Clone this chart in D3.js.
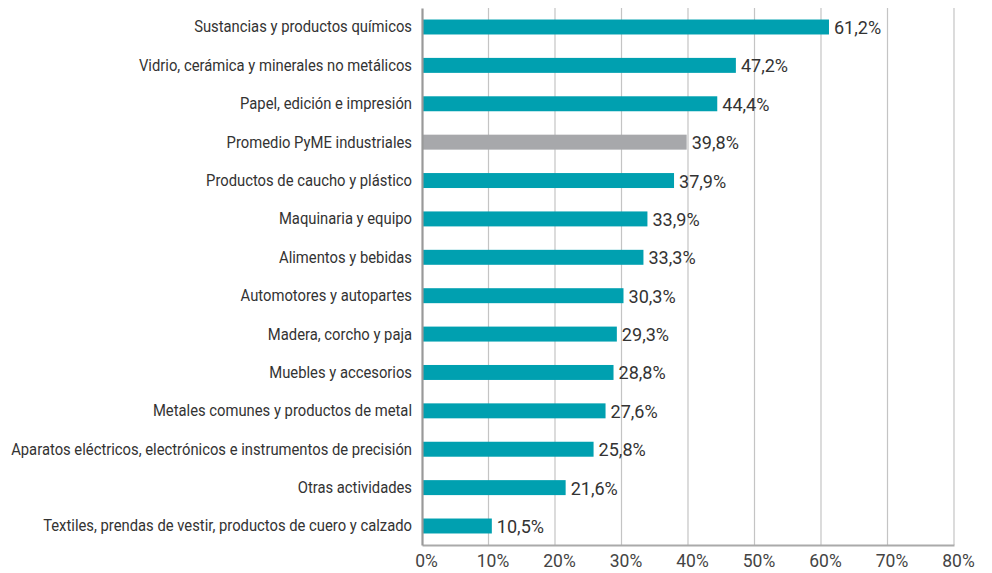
<!DOCTYPE html>
<html>
<head>
<meta charset="utf-8">
<script src="https://cdn.jsdelivr.net/npm/d3@7"></script>
<style>
  html, body { margin: 0; padding: 0; background: #fff; }
  svg text { font-family: "Roboto", "Liberation Sans", sans-serif; }
</style>
</head>
<body>
<svg id="chart" width="992" height="573"></svg>
<script>
const categories = [
  "Sustancias y productos químicos",
  "Vidrio, cerámica y minerales no metálicos",
  "Papel, edición e impresión",
  "Promedio PyME industriales",
  "Productos de caucho y plástico",
  "Maquinaria y equipo",
  "Alimentos y bebidas",
  "Automotores y autopartes",
  "Madera, corcho y paja",
  "Muebles y accesorios",
  "Metales comunes y productos de metal",
  "Aparatos eléctricos, electrónicos e instrumentos de precisión",
  "Otras actividades",
  "Textiles, prendas de vestir, productos de cuero y calzado"
];
const values = [61.2, 47.2, 44.4, 39.8, 37.9, 33.9, 33.3, 30.3, 29.3, 28.8, 27.6, 25.8, 21.6, 10.5];
const highlighted = ["Promedio PyME industriales"];
const xTicks = [0, 10, 20, 30, 40, 50, 60, 70, 80];

const margin = { top: 8, right: 38, bottom: 28, left: 422 };
const width = 992, height = 573;
const svg = d3.select("#chart");

const x = d3.scaleLinear().domain([0, 80]).range([margin.left, width - margin.right]);
const y = d3.scaleBand().domain(categories).range([margin.top, height - margin.bottom]).paddingInner(0.61).paddingOuter(0.3);

const fmt = v => d3.format(".1f")(v).replace(".", ",") + "%";

// squeeze text horizontally to get a condensed face
function condense(sel, factor) {
  sel.each(function () {
    const len = this.getComputedTextLength();
    d3.select(this).attr("textLength", len * factor).attr("lengthAdjust", "spacingAndGlyphs");
  });
}

// vertical gridlines
svg.append("g").selectAll("line").data(xTicks.slice(1)).join("line")
  .attr("x1", d => x(d)).attr("x2", d => x(d))
  .attr("y1", margin.top).attr("y2", height - margin.bottom)
  .attr("stroke", "#c4c4c4").attr("stroke-width", 1.2);

// bars
svg.append("g").selectAll("rect").data(categories).join("rect")
  .attr("x", x(0))
  .attr("y", d => y(d))
  .attr("width", (d, i) => x(values[i]) - x(0))
  .attr("height", y.bandwidth())
  .attr("fill", d => highlighted.includes(d) ? "#a7a8ab" : "#00a0b0");

// value labels
svg.append("g").selectAll("text").data(categories).join("text")
  .attr("x", (d, i) => x(values[i]) + 5)
  .attr("y", d => y(d) + y.bandwidth() / 2)
  .attr("dy", "0.37em")
  .attr("font-size", 19)
  .attr("fill", "#333")
  .text((d, i) => fmt(values[i]))
  .call(condense, 0.95);

// x axis
const xAxis = svg.append("g")
  .attr("transform", `translate(0,${height - margin.bottom})`)
  .call(d3.axisBottom(x).tickValues(xTicks).tickSize(0).tickPadding(9).tickFormat(d => d + "%"));
xAxis.select(".domain").attr("stroke", "#aaa").attr("stroke-width", 2);
xAxis.selectAll("text").attr("font-size", 19).attr("fill", "#444")
  .attr("font-family", "Roboto, sans-serif")
  .attr("dx", 4)
  .call(condense, 0.92);

// y axis
const yAxis = svg.append("g")
  .attr("transform", `translate(${margin.left},0)`)
  .call(d3.axisLeft(y).tickSize(0).tickPadding(10));
yAxis.select(".domain").attr("stroke", "#999").attr("stroke-width", 2.2);
yAxis.selectAll("text").attr("font-size", 17).attr("fill", "#333")
  .attr("font-family", "Roboto, sans-serif")
  .call(condense, 0.87);
</script>
</body>
</html>
